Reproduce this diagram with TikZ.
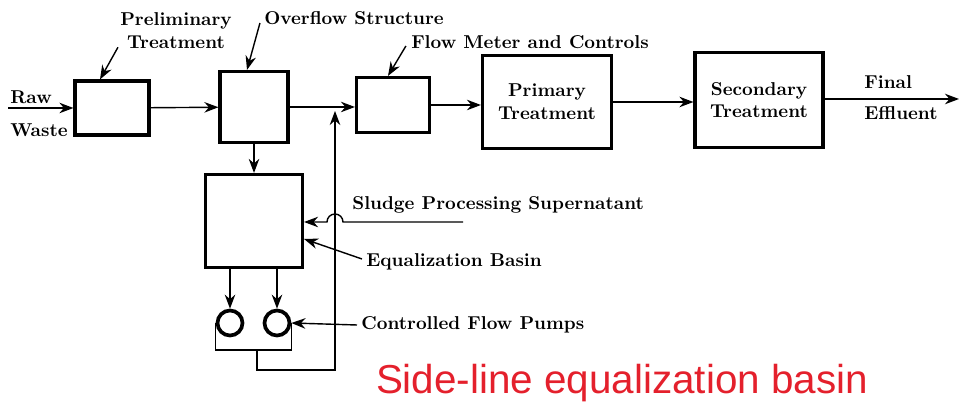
\documentclass[tikz,border=0pt]{standalone}
\usepackage{fontspec}
\newfontfamily\titlefont{Liberation Sans}
\usetikzlibrary{arrows.meta}

\begin{document}
\begin{tikzpicture}[
  x=0.02cm, y=-0.02cm,
  box/.style={rectangle, draw, line width=1.8pt, align=center,
              font=\fontsize{10.6}{13}\selectfont\bfseries, inner sep=0pt},
  pump/.style={circle, draw, line width=2.1pt, minimum size=0.5cm, inner sep=0pt},
  lbl/.style={font=\fontsize{10.6}{13}\selectfont\bfseries, align=center, inner sep=0pt},
  arr/.style={-{Stealth[length=8pt,width=6pt]}, line width=0.8pt},
  line/.style={line width=0.8pt},
]
\useasboundingbox (0,0) rectangle (961,408);

% main line boxes
\node[box, minimum width=1.48cm, minimum height=1.08cm] (prelim) at (112,108) {};
\node[box, minimum width=1.36cm, minimum height=1.42cm] (overflow) at (254,107) {};
\node[box, minimum width=1.46cm, minimum height=1.10cm] (meter) at (393,105) {};
\node[box, minimum width=2.58cm, minimum height=1.86cm] (primary) at (547,102) {Primary\\Treatment};
\node[box, minimum width=2.56cm, minimum height=1.90cm] (secondary) at (759,100) {Secondary\\Treatment};

% side line
\node[box, minimum width=1.94cm, minimum height=1.86cm] (basin) at (254,221) {};
\node[pump] (pumpA) at (230,323) {};
\node[pump] (pumpB) at (277,323) {};

% labels
\node[lbl, anchor=west] (raw) at (10,97) {Raw};
\node[lbl, anchor=west] (waste) at (10,130) {Waste};
\node[lbl] (prelimlbl) at (176,31) {Preliminary\\Treatment};
\node[lbl] (overflowlbl) at (354,18) {Overflow Structure};
\node[lbl] (meterlbl) at (530,42) {Flow Meter and Controls};
\node[lbl, anchor=west] (final) at (864,82) {Final};
\node[lbl, anchor=west] (effluent) at (864,113) {Effluent};
\node[lbl, anchor=west] (sludgelbl) at (352,205) {Sludge Processing Supernatant};
\node[lbl, anchor=west] (basinlbl) at (366,262) {Equalization Basin};
\node[lbl, anchor=west] (pumplbl) at (361,325) {Controlled Flow Pumps};
\node[font=\titlefont\fontsize{23}{27}\selectfont, text={rgb,255:red,228;green,32;blue,44},
      inner sep=0pt] (title) at (622,383) {Side-line equalization basin};

% connection points
\coordinate (in) at (8,108);
\coordinate (out) at (959,99);
\coordinate (jn) at (335,107);
\coordinate (loopmid) at (257,350);
\coordinate (ret) at (335,370);
\coordinate (sludge) at (463,222);

% main flow
\draw[arr] (in) -- (prelim.west);
\draw[arr] (prelim) -- (overflow);
\draw[arr] (overflow.east) -- (meter.west |- overflow.east);
\draw[arr] (meter.east) -- (primary.west |- meter.east);
\draw[arr] (primary.east) -- (secondary.west |- primary.east);
\draw[arr] (secondary.east |- out) -- (out);

% side line
\draw[arr] (overflow.south) -- (basin.north);
\draw[arr] (pumpA |- basin.south) -- (pumpA.north);
\draw[arr] (pumpB |- basin.south) -- (pumpB.north);
\draw[line] (pumpA.west) |- (loopmid) -| (pumpB.east);
\draw[arr] (loopmid) |- (ret) -- ([yshift=-0.08cm]jn);
\draw[arr] (sludge) -- ([xshift=0.16cm]ret |- sludge)
  arc[start angle=0, end angle=180, radius=0.16cm] -- (basin.east |- sludge);

% label pointers
\draw[arr] ([shift={(-0.04cm,0.04cm)}]prelimlbl.south west) -- ([xshift=-0.24cm]prelim.north);
\draw[arr] ([shift={(-0.08cm,-0.1cm)}]overflowlbl.west) -- ([xshift=-0.14cm]overflow.north);
\draw[arr] ([shift={(-0.1cm,-0.08cm)}]meterlbl.west) -- ([xshift=-0.1cm]meter.north);
\draw[arr] ([shift={(-0.08cm,0.06cm)}]basinlbl.west) -- ([yshift=-0.36cm]basin.east);
\draw[arr] ([xshift=-0.08cm]pumplbl.west) -- (pumpB.east);
\end{tikzpicture}
\end{document}
